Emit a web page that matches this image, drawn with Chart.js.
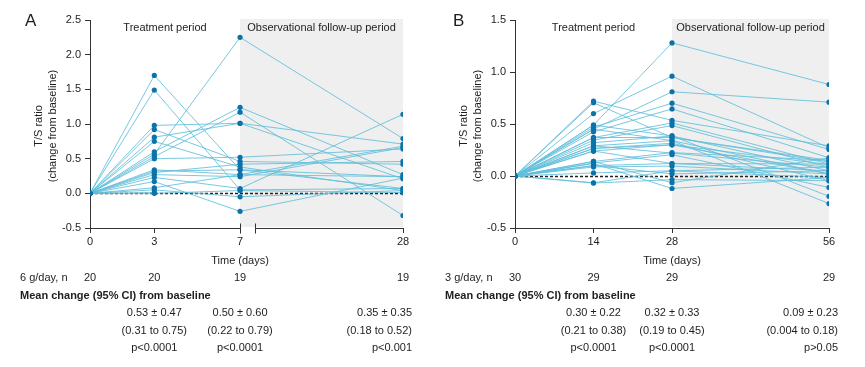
<!DOCTYPE html>
<html>
<head>
<meta charset="utf-8">
<script src="https://cdn.jsdelivr.net/npm/chart.js@4.4.1/dist/chart.umd.min.js"></script>
<style>
  body { margin: 0; background: #fff; }
  #wrap { position: relative; width: 865px; height: 367px; }
  canvas { position: absolute; top: 0; }
</style>
</head>
<body>
<div id="wrap">
  <canvas id="chartA" width="432" height="367" style="left:0"></canvas>
  <canvas id="chartB" width="433" height="367" style="left:432px"></canvas>
</div>
<script>
'use strict';

// ---- panel A : 6 g/day ----
let daysA = [0, 3, 7, 28];
let yTicksA = [-0.5, 0, 0.5, 1.0, 1.5, 2.0, 2.5];
let subjectsA = [
  [0, 1.70, 0.34, 0.24],
  [0, 1.49, 0.05, 0.07],
  [0, 0.98, 1.01, 0.71],
  [0, 0.92, 0.46, 0.42],
  [0, 0.81, 1.01, 0.21],
  [0, 0.75, 0.38, 0.04],
  [0, 0.60, 1.24, 0.27],
  [0, 0.565, 2.25, 0.79],
  [0, 0.53, 1.17, -0.32],
  [0, 0.50, 0.52, 0.64],
  [0, 0.34, 0.27, 0.68],
  [0, 0.30, 0.42, 0.46],
  [0, 0.27, 0.24, 0.66],
  [0, 0.23, 0.07, 1.14],
  [0, 0.17, -0.26, 0.22],
  [0, 0.08, 0.27, 0.24],
  [0, 0.05, -0.05, 0.04],
  [0, 0.00, 0.04, 0.01],
  [0, 0.32, 0.34, 0.07],
  [0, 0.01, null, null]
];
let nA = [20, 20, 19, 19];
let meanA = ['0.53 \u00b1 0.47', '0.50 \u00b1 0.60', '0.35 \u00b1 0.35'];
let ciA = ['(0.31 to 0.75)', '(0.22 to 0.79)', '(0.18 to 0.52)'];
let pA = ['p<0.0001', 'p<0.0001', 'p<0.001'];

// ---- panel B : 3 g/day ----
let daysB = [0, 14, 28, 56];
let yTicksB = [-0.5, 0, 0.5, 1.0, 1.5];
let subjectsB = [
  [0, 0.49, 1.28, 0.88],
  [0, 0.60, 0.96, 0.27],
  [0, 0.45, 0.81, 0.71],
  [0, 0.72, 0.535, 0.29],
  [0, 0.705, 0.37, 0.15],
  [0, 0.47, 0.70, 0.255],
  [0, 0.425, 0.645, 0.175],
  [0, 0.37, 0.51, 0.115],
  [0, 0.345, 0.485, 0.085],
  [0, 0.32, 0.385, 0.05],
  [0, 0.29, 0.34, 0.02],
  [0, 0.265, 0.315, -0.045],
  [0, 0.24, 0.30, 0.11],
  [0, 0.14, 0.225, 0.15],
  [0, 0.125, 0.205, -0.11],
  [0, 0.10, 0.12, 0.05],
  [0, 0.087, 0.095, 0.02],
  [0, 0.03, 0.05, -0.015],
  [0, -0.068, -0.035, -0.045],
  [0, 0.49, 0.385, -0.195],
  [0, 0.45, 0.34, -0.265],
  [0, 0.29, 0.22, 0.085],
  [0, 0.24, 0.12, 0.115],
  [0, 0.14, -0.065, 0.175],
  [0, 0.12, -0.12, -0.015],
  [0, 0.10, 0.02, 0.05],
  [0, 0.37, 0.37, 0.135],
  [0, 0.265, 0.30, 0.02],
  [0, -0.065, 0.05, 0.085],
  [0, null, null, null]
];
let nB = [30, 29, 29, 29];
let meanB = ['0.30 \u00b1 0.22', '0.32 \u00b1 0.33', '0.09 \u00b1 0.23'];
let ciB = ['(0.21 to 0.38)', '(0.19 to 0.45)', '(0.004 to 0.18)'];
let pB = ['p<0.0001', 'p<0.0001', 'p>0.05'];

const FONT = '"Liberation Sans", Arial, sans-serif';
const TEXT = '#1e1e1e';
const AXIS = '#333';

// panel A has a broken x axis: the stretch after day 7 is compressed
function breakPos(d) { return d <= 7 ? d : 7 + (d - 7) * 0.362; }
function plainPos(d) { return d; }

const decor = {
  id: 'decor',
  beforeDatasetsDraw(chart, args, o) {
    const ctx = chart.ctx, a = chart.chartArea, x = chart.scales.x, y = chart.scales.y;
    const xf = x.getPixelForValue(o.pos(o.days[2]));
    ctx.save();
    ctx.fillStyle = '#efefef';
    ctx.fillRect(xf, a.top - 1, a.right - xf, a.bottom - a.top);
    ctx.fillStyle = TEXT;
    ctx.font = '11px ' + FONT;
    ctx.textAlign = 'center';
    ctx.textBaseline = 'middle';
    ctx.fillText('Treatment period', (a.left + xf) / 2, a.top + 8);
    ctx.fillText('Observational follow-up period', (xf + a.right) / 2, a.top + 8);
    // zero reference line
    const y0 = Math.round(y.getPixelForValue(0)) + 0.5;
    ctx.strokeStyle = '#222';
    ctx.lineWidth = 1.5;
    ctx.setLineDash([3, 2]);
    ctx.beginPath();
    ctx.moveTo(a.left, y0);
    ctx.lineTo(a.right, y0);
    ctx.stroke();
    ctx.restore();
  },
  afterDraw(chart, args, o) {
    const ctx = chart.ctx, a = chart.chartArea, x = chart.scales.x;
    const px = o.days.map(d => x.getPixelForValue(o.pos(d)));
    ctx.save();
    // x axis line (with break for panel A)
    const yb = a.bottom + 0.5;
    ctx.strokeStyle = AXIS;
    ctx.lineWidth = 1;
    ctx.beginPath();
    if (o.broken) {
      const b1 = Math.round(px[2]) + 0.5, b2 = b1 + 15;
      ctx.moveTo(a.left, yb); ctx.lineTo(b1, yb);
      ctx.moveTo(b2, yb); ctx.lineTo(a.right, yb);
      ctx.moveTo(b1, yb - 5); ctx.lineTo(b1, yb + 5);
      ctx.moveTo(b2, yb - 5); ctx.lineTo(b2, yb + 5);
    } else {
      ctx.moveTo(a.left, yb); ctx.lineTo(a.right, yb);
    }
    ctx.stroke();

    ctx.fillStyle = TEXT;
    ctx.textBaseline = 'middle';
    // panel letter
    ctx.font = '17px ' + FONT;
    ctx.textAlign = 'left';
    ctx.fillText(o.letter, o.letterX, 21);
    // y title
    ctx.font = '11px ' + FONT;
    ctx.textAlign = 'center';
    ctx.save();
    ctx.translate(a.left - 51, 126);
    ctx.rotate(-Math.PI / 2);
    ctx.fillText('T/S ratio', 0, 0);
    ctx.restore();
    ctx.save();
    ctx.translate(a.left - 37, 126);
    ctx.rotate(-Math.PI / 2);
    ctx.fillText('(change from baseline)', 0, 0);
    ctx.restore();
    // x title
    ctx.fillText('Time (days)', px[2], 261);
    // n row
    ctx.textAlign = 'left';
    ctx.fillText(o.nLabel, a.left - 70, 278);
    ctx.textAlign = 'center';
    o.n.forEach((v, i) => ctx.fillText(String(v), px[i], 278));
    // mean change block
    ctx.textAlign = 'left';
    ctx.font = 'bold 11px ' + FONT;
    ctx.fillText('Mean change (95% CI) from baseline', a.left - 70, 296);
    ctx.font = '11px ' + FONT;
    const rows = [o.mean, o.ci, o.p];
    const rowY = [313, 331, 348];
    rows.forEach((row, r) => {
      row.forEach((t, i) => {
        if (i < 2) {
          ctx.textAlign = 'center';
          ctx.fillText(t, px[i + 1], rowY[r]);
        } else {
          ctx.textAlign = 'right';
          ctx.fillText(t, a.right + 9, rowY[r]);
        }
      });
    });
    ctx.restore();
  }
};

function makePanel(id, p) {
  const datasets = p.subjects.map(s => ({
    data: s.map((v, i) => ({ x: p.pos(p.days[i]), y: v })).filter(pt => pt.y !== null),
    showLine: true,
    borderColor: 'rgba(96, 190, 218, 0.85)',
    borderWidth: 1,
    pointRadius: 2.6,
    pointBackgroundColor: '#0b73aa',
    pointBorderWidth: 0
  }));
  return new Chart(document.getElementById(id), {
    type: 'scatter',
    data: { datasets: datasets },
    plugins: [decor],
    options: {
      responsive: false,
      animation: false,
      devicePixelRatio: 1,
      layout: { padding: { top: 20, right: p.padRight, left: 0, bottom: 0 } },
      plugins: {
        legend: { display: false },
        tooltip: { enabled: false },
        decor: p
      },
      scales: {
        x: {
          type: 'linear',
          min: p.pos(p.days[0]),
          max: p.pos(p.days[p.days.length - 1]),
          afterFit: sc => { sc.height = 139; },
          afterBuildTicks: sc => { sc.ticks = p.days.map(d => ({ value: p.pos(d) })); },
          border: { display: false },
          grid: { drawOnChartArea: false, tickLength: 5, color: AXIS },
          ticks: {
            color: TEXT, padding: 2, maxRotation: 0,
            font: { family: FONT, size: 11 },
            callback: (v, i) => String(p.days[i])
          }
        },
        y: {
          min: p.yTicks[0],
          max: p.yTicks[p.yTicks.length - 1],
          afterFit: sc => { sc.width = p.left; },
          afterBuildTicks: sc => { sc.ticks = p.yTicks.map(v => ({ value: v })); },
          border: { display: true, color: AXIS, width: 1 },
          grid: { drawOnChartArea: false, tickLength: 5, color: AXIS },
          ticks: {
            color: TEXT, padding: 4,
            font: { family: FONT, size: 11 },
            callback: v => v.toFixed(1)
          }
        }
      }
    }
  });
}

makePanel('chartA', {
  days: daysA, subjects: subjectsA, yTicks: yTicksA, pos: breakPos, broken: true,
  n: nA, mean: meanA, ci: ciA, p: pA, nLabel: '6 g/day, n',
  letter: 'A', letterX: 25, left: 90, padRight: 29
});
makePanel('chartB', {
  days: daysB, subjects: subjectsB, yTicks: yTicksB, pos: plainPos, broken: false,
  n: nB, mean: meanB, ci: ciB, p: pB, nLabel: '3 g/day, n',
  letter: 'B', letterX: 21, left: 83, padRight: 36
});
</script>
</body>
</html>
